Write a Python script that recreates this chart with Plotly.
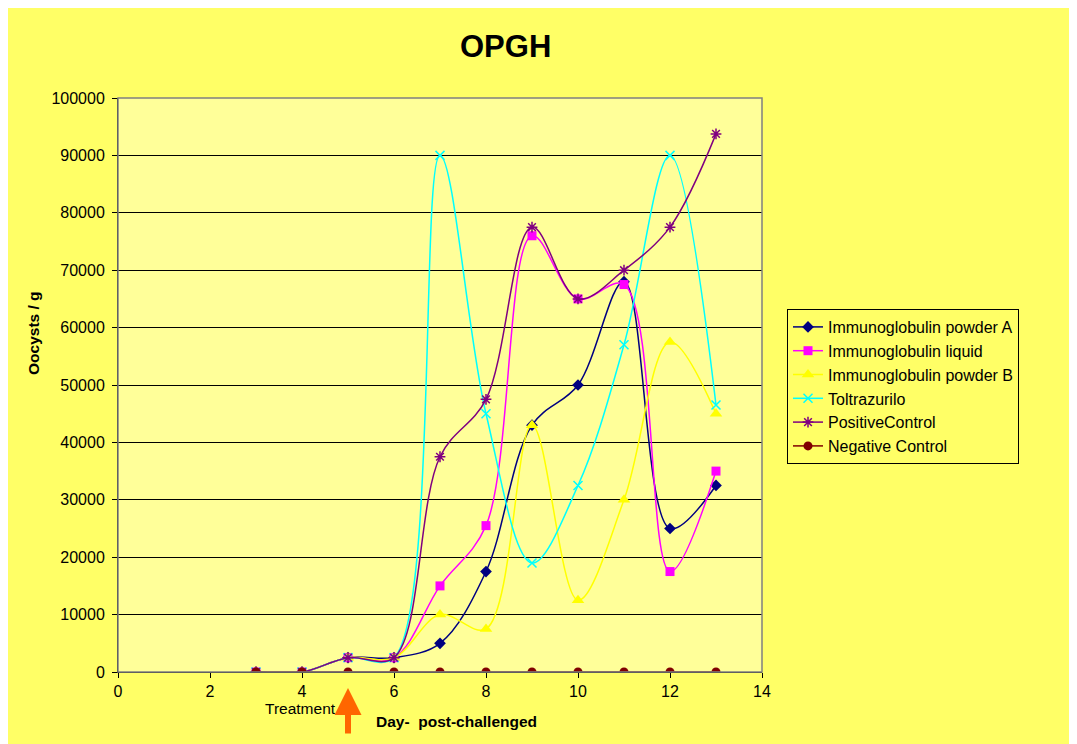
import plotly.graph_objects as go

days = [3, 4, 5, 6, 7, 8, 9, 10, 11, 12, 13]
powder_a = [0, 0, 2500, 2500, 5000, 17500, 43000, 50000, 68000, 25000, 32500]
liquid = [0, 0, 2500, 2500, 15000, 25500, 76000, 65000, 67500, 17500, 35000]
powder_b = [0, 0, 2500, 2500, 10000, 7500, 43000, 12500, 30000, 57500, 45000]
toltrazurilo = [0, 0, 2500, 2500, 90000, 45000, 19000, 32500, 57000, 90000, 46500]
positive = [0, 0, 2500, 2500, 37500, 47500, 77500, 65000, 70000, 77500, 93750]
negative = [0, 0, 0, 0, 0, 0, 0, 0, 0, 0, 0]

series = [
    ("Immunoglobulin powder A", powder_a, "#000080", "diamond", 9),
    ("Immunoglobulin liquid", liquid, "#FF00FF", "square", 9),
    ("Immunoglobulin powder B", powder_b, "#FFFF00", "triangle-up", 11),
    ("Toltrazurilo", toltrazurilo, "#00FFFF", "x-thin", 9),
    ("PositiveControl", positive, "#800080", "asterisk", 9),
    ("Negative Control", negative, "#800000", "circle", 9),
]

fig = go.Figure()
for name, vals, col, sym, size in series:
    mk = dict(symbol=sym, size=size, color=col)
    if sym in ("x-thin", "asterisk"):
        mk["line"] = dict(color=col, width=1.5)
    fig.add_trace(go.Scatter(
        x=days, y=vals, name=name, mode="lines+markers",
        line=dict(color=col, width=1.5, shape="spline", smoothing=1.0),
        marker=mk,
    ))

# page offset (body margin)
OFF = 8
W, H = 1077 - OFF, 744 - OFF
L, R, T, B = 118 - OFF, 762 - OFF, 98 - OFF, 672 - OFF
pw, ph = R - L, B - T
def px(x): return (x - OFF - L) / pw
def py(y): return (B - (y - OFF)) / ph

shapes = [
    dict(type="rect", xref="paper", yref="paper", x0=0, x1=1, y0=0, y1=1,
         fillcolor="#FFFF99", line=dict(width=0), layer="below"),
    dict(type="rect", xref="paper", yref="paper", x0=0, x1=1, y0=0, y1=1,
         fillcolor="rgba(0,0,0,0)", line=dict(width=1.5, color="#808080"), layer="above"),
]

annotations = [
    dict(text="<b>OPGH</b>", xref="paper", yref="paper", x=px(505), y=py(46),
         showarrow=False, font=dict(size=31, color="black"),
         xanchor="center", yanchor="middle"),
    dict(text="<b>Day-  post-challenged</b>", xref="paper", yref="paper", x=px(456), y=py(721),
         showarrow=False, font=dict(size=15.5, color="black"), xanchor="center", yanchor="middle"),
    dict(text="<b>Oocysts / g</b>", xref="paper", yref="paper", x=px(33), y=py(333),
         showarrow=False, font=dict(size=15.5, color="black"), textangle=-90,
         xanchor="center", yanchor="middle"),
    dict(text="Treatment", xref="paper", yref="paper", x=px(300), y=py(708),
         showarrow=False, font=dict(size=15.5, color="black"), xanchor="center", yanchor="middle"),
    dict(text="", x=5, xref="x", yref="paper", y=py(688), ax=0, ay=47, axref="pixel", ayref="pixel",
         showarrow=True, arrowhead=2, arrowsize=0.9, arrowwidth=6, arrowcolor="#FF6600"),
]

fig.update_layout(
    width=W, height=H,
    margin=dict(l=L, r=W - R, t=T, b=H - B, pad=0),
    paper_bgcolor="#FFFF66",
    plot_bgcolor="rgba(0,0,0,0)",
    font=dict(family="Liberation Sans, Arial", size=16, color="black"),
    shapes=shapes,
    annotations=annotations,
    showlegend=True,
    legend=dict(x=px(787), y=py(309), xanchor="left", yanchor="top",
                bgcolor="#FFFF66", bordercolor="black", borderwidth=1,
                font=dict(size=16), tracegroupgap=0, itemwidth=30),
    xaxis=dict(range=[0, 14], dtick=2, tick0=0, showgrid=False, zeroline=False,
               ticks="outside", ticklen=5, tickcolor="black", showline=True, linecolor="black",
               tickfont=dict(size=16)),
    yaxis=dict(range=[0, 100000], dtick=10000, tick0=0, tickformat="d", showgrid=True,
               gridcolor="black", gridwidth=1, zeroline=False,
               ticks="outside", ticklen=5, tickcolor="black", showline=True, linecolor="black",
               tickfont=dict(size=16), ticklabelstandoff=4),
)

fig.write_html("out.html")
